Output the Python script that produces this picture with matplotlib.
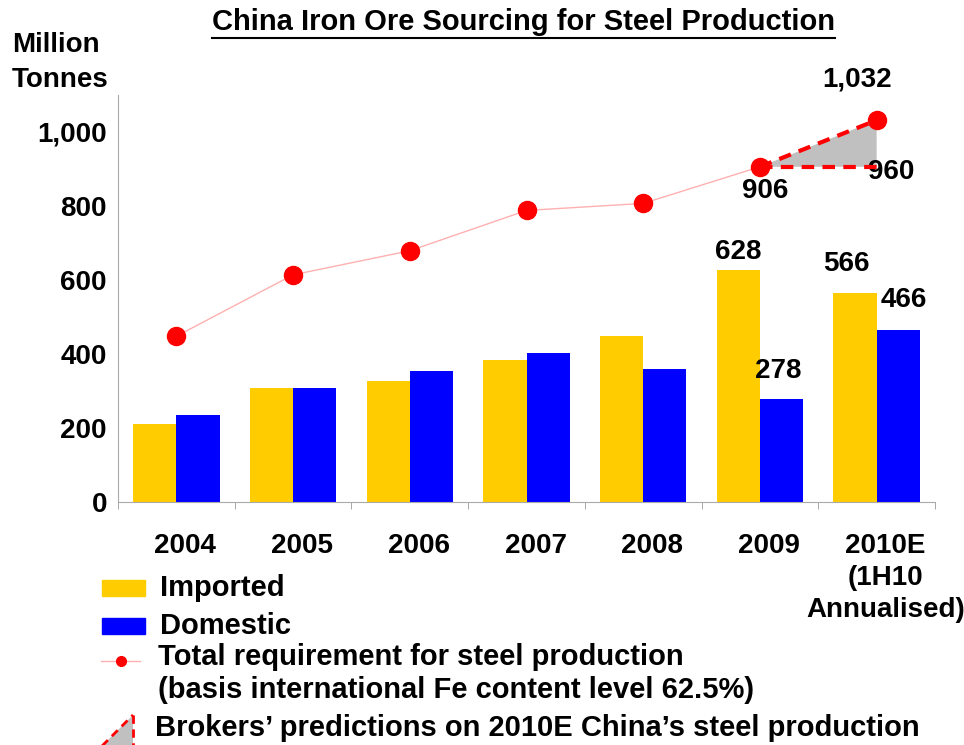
import matplotlib.pyplot as plt
import matplotlib.transforms as mtransforms
from matplotlib.patches import Rectangle, Polygon
from matplotlib.lines import Line2D

plt.rcParams['font.family'] = ['Liberation Sans', 'DejaVu Sans']
plt.rcParams['font.weight'] = 'bold'

categories = ["2004", "2005", "2006", "2007", "2008", "2009", "2010E\n(1H10\nAnnualised)"]
imported = [212, 307, 326, 383, 448, 628, 566]
domestic = [236, 307, 353, 402, 359, 278, 466]
total_req = [448, 614, 679, 788, 807, 906, 1032]
brokers_low = 960

W, H = 964, 745


def fp(x, y):
    # pixel -> figure coords
    return x / W, 1 - y / H


fig = plt.figure(figsize=(W / 100, H / 100), dpi=100)
ax = fig.add_axes([118 / W, 1 - 502 / H, (935 - 118) / W, (502 - 95) / H])

xs = list(range(len(categories)))
bw = 0.37
ax.bar([x - bw / 2 for x in xs], imported, width=bw, color="#FFCC00", zorder=2)
ax.bar([x + bw / 2 for x in xs], domestic, width=bw, color="#0000FF", zorder=2)

# total requirement line (2004-2009) and markers
ax.plot(xs[:6], total_req[:6], color="#FFB0B0", lw=1, zorder=3)
ax.plot(xs, total_req, ls="none", marker="o", ms=13, color="#FF0000", zorder=5)

# brokers' prediction triangle
ax.add_patch(Polygon([(xs[5], total_req[5]), (xs[6], total_req[6]), (xs[6], total_req[5])],
                     closed=True, facecolor="#C0C0C0", edgecolor="none", zorder=3))
ax.plot([xs[5], xs[6]], [total_req[5], total_req[6]], color="#FF0000", lw=3,
        ls=(0, (3, 2)), zorder=4)
ax.plot([xs[5], xs[6]], [total_req[5], total_req[5]], color="#FF0000", lw=3,
        ls=(0, (3, 2)), zorder=4)

ax.set_xlim(-0.5, 6.5)
ax.set_ylim(0, 1100)
ax.set_yticks(range(0, 1001, 200))
ax.set_yticklabels(["{:,}".format(v) for v in range(0, 1001, 200)])
ax.set_xticks(xs)
ax.set_xticklabels(categories, va="top", linespacing=1.3)
ax.set_xticks([x - 0.5 for x in range(8)], minor=True)
ax.tick_params(axis="x", which="major", length=0, pad=22, labelsize=20)
ax.tick_params(axis="x", which="minor", length=5, color="#999999")
ax.tick_params(axis="y", length=0, pad=8, labelsize=20)
shift = mtransforms.ScaledTranslation(9 / 100, 0, fig.dpi_scale_trans)
for t in ax.get_xticklabels():
    t.set_transform(t.get_transform() + shift)
for s in ["top", "right"]:
    ax.spines[s].set_visible(False)
for s in ["left", "bottom"]:
    ax.spines[s].set_color("#AAAAAA")

lbl = dict(fontsize=20, fontweight="bold", textcoords="offset points")
ax.annotate("628", (xs[5] - bw / 2, imported[5]), xytext=(0, 3), ha="center", va="bottom", **lbl)
ax.annotate("278", (xs[5] + bw / 2, domestic[5]), xytext=(-2, 11), ha="center", va="bottom", **lbl)
ax.annotate("566", (xs[6] - bw / 2, imported[6]), xytext=(-6, 11), ha="center", va="bottom", **lbl)
ax.annotate("466", (xs[6] + bw / 2, domestic[6]), xytext=(4, 12), ha="center", va="bottom", **lbl)
ax.annotate("906", (xs[5], total_req[5]), xytext=(4, -8), ha="center", va="top", **lbl)
ax.annotate("{:,}".format(brokers_low), (xs[6], total_req[5]), xytext=(-6, -4), ha="left", va="center", **lbl)
ax.annotate("{:,}".format(total_req[6]), (xs[6], total_req[6]), xytext=(-14, 29), ha="center", va="center", **lbl)

# title with underline
title = fig.text(*fp(523, 22), "China Iron Ore Sourcing for Steel Production", ha="center",
                 va="center", fontsize=21, fontweight="bold")
fig.text(*fp(12, 45), "Million", ha="left", va="center", fontsize=20, fontweight="bold")
fig.text(*fp(12, 80), "Tonnes", ha="left", va="center", fontsize=20, fontweight="bold")

fig.canvas.draw()
bb = title.get_window_extent().transformed(fig.transFigure.inverted())
fig.add_artist(Line2D([bb.x0, bb.x1], [fp(0, 38)[1]] * 2, color="black", lw=1.5,
                      transform=fig.transFigure))

# legend drawn by hand
fig.add_artist(Rectangle(fp(102, 596), 43 / W, 16 / H, color="#FFCC00", transform=fig.transFigure))
fig.text(*fp(160, 588), "Imported", ha="left", va="center", fontsize=21, fontweight="bold")
fig.add_artist(Rectangle(fp(102, 634), 43 / W, 16 / H, color="#0000FF", transform=fig.transFigure))
fig.text(*fp(160, 626), "Domestic", ha="left", va="center", fontsize=21, fontweight="bold")
fig.add_artist(Line2D([fp(101, 0)[0], fp(140, 0)[0]], [fp(0, 661)[1]] * 2, color="#FFB0B0",
                      lw=1, transform=fig.transFigure))
fig.add_artist(Line2D([fp(121, 0)[0]], [fp(0, 661)[1]], marker="o", ms=7, color="#FF0000",
                      ls="none", transform=fig.transFigure))
fig.text(*fp(158, 657), "Total requirement for steel production", ha="left", va="center",
         fontsize=21, fontweight="bold")
fig.text(*fp(158, 690), "(basis international Fe content level 62.5%)", ha="left", va="center",
         fontsize=21, fontweight="bold")
fig.add_artist(Polygon([fp(102, 746), fp(133, 715), fp(133, 746)], closed=True,
                       facecolor="#C0C0C0", edgecolor="none", transform=fig.transFigure))
fig.add_artist(Line2D([fp(102, 0)[0], fp(133, 0)[0]], [fp(0, 746)[1], fp(0, 715)[1]],
                      color="#FF0000", lw=2, ls=(0, (3, 2)), transform=fig.transFigure))
fig.add_artist(Line2D([fp(133, 0)[0], fp(133, 0)[0]], [fp(0, 715)[1], fp(0, 746)[1]],
                      color="#FF0000", lw=2, ls=(0, (3, 2)), transform=fig.transFigure))
fig.text(*fp(155, 728), "Brokers\u2019 predictions on 2010E China\u2019s steel production", ha="left",
         va="center", fontsize=21, fontweight="bold")

fig.savefig("out.png", dpi=100)
